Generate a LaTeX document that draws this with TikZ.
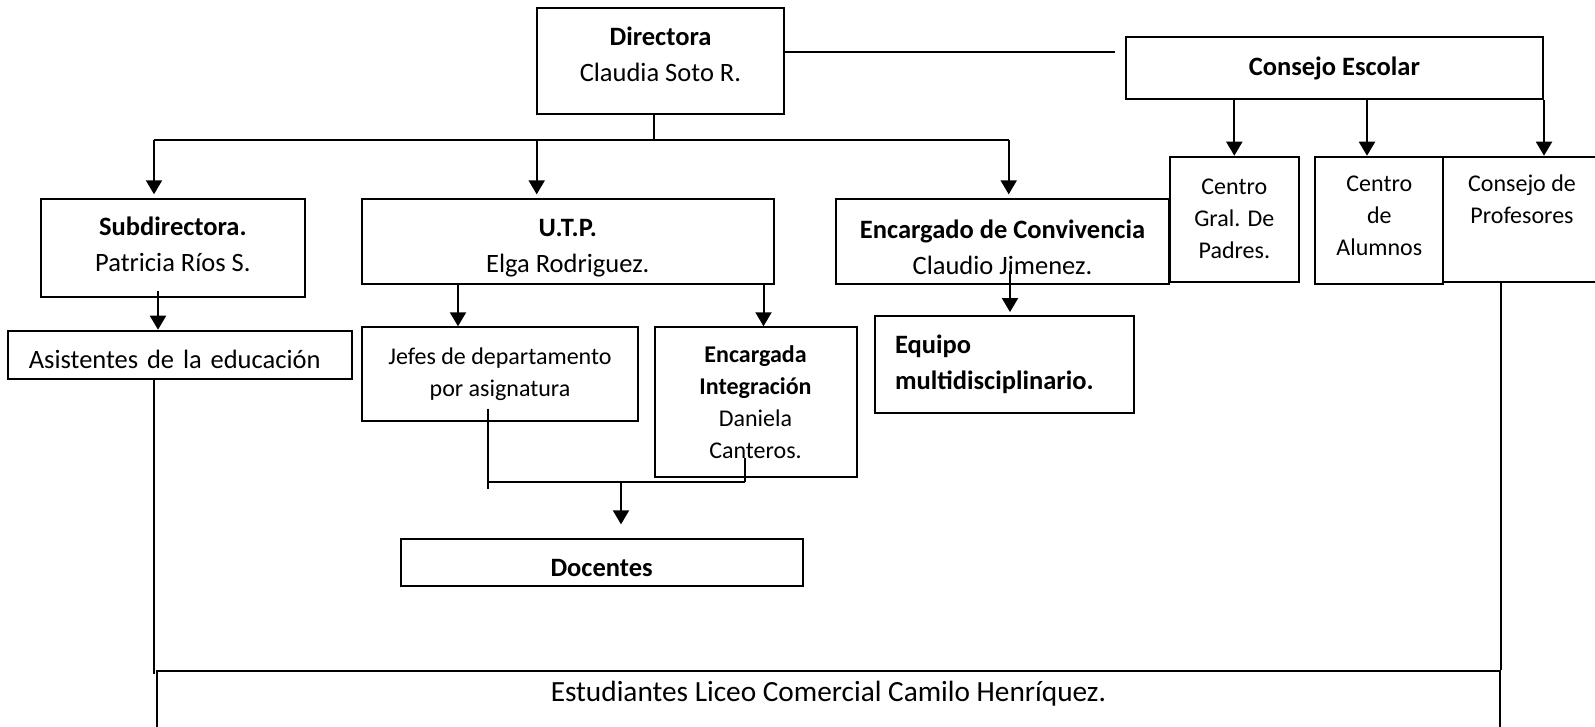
\documentclass[tikz,border=0pt]{standalone}
\usepackage{fontspec}
\setmainfont{Carlito}
\usetikzlibrary{arrows.meta}

% invisible struts that move a box's text up or down
\newcommand\txup[1]{\rule[-#1]{0pt}{0pt}}
\newcommand\txdown[1]{\rule{0pt}{#1}}

\tikzset{
  box/.style={draw, line width=2pt, align=center, inner sep=0pt,
    font=\fontsize{26.5}{36}\selectfont},
  smallbox/.style={box, font=\fontsize{24}{32}\selectfont},
  ln/.style={line width=2pt},
  arr/.style={ln, -{Triangle[length=14pt,width=16pt]}}
}

\begin{document}
\begin{tikzpicture}[x=1pt,y=-1pt]
                \useasboundingbox (0,0) rectangle (1595,727);

                % Top level
                \node[box, minimum width=247pt, minimum height=106pt] (dir) at (660.5,61) {\textbf{Directora}\\Claudia Soto R.\txup{14pt}};
                \node[box, minimum width=417.4pt, minimum height=62pt] (cesc) at (1334.3,68.3) {\textbf{Consejo Escolar}};

                % Second level
                \node[box, minimum width=264.2pt, minimum height=98pt] (sub) at (172.9,248.3) {\textbf{Subdirectora.}\\Patricia Ríos S.\txup{8pt}};
                \node[box, minimum width=411.5pt, minimum height=84.7pt] (utp) at (567.8,241.7) {\txdown{30pt}\textbf{U.T.P.}\\Elga Rodriguez.};
                \node[box, minimum width=333pt, minimum height=84.7pt] (conv) at (1002.5,241.7) {\txdown{30pt}\textbf{Encargado de Convivencia}\\Claudio Jimenez.};
                \node[smallbox, minimum width=129pt, minimum height=125pt] (cgp) at (1234.3,219.2) {Centro\\Gral. De\\Padres.};
                \node[smallbox, minimum width=127.8pt, minimum height=127.3pt] (calum) at (1379.3,220.4) {Centro\\de\\Alumnos\txup{9pt}};
                \node[smallbox, minimum width=158pt, minimum height=125pt] (cprof) at (1522,219.2) {Consejo de\\Profesores\\\mbox{}\txup{9pt}};

                % Third level
                \node[box, text width=302pt, inner xsep=21.2pt, align=left, minimum height=48.6pt] (asist) at (179.8,355) {\txdown{27.5pt}Asistentes de la educación};
                \node[smallbox, minimum width=276.6pt, minimum height=93.4pt] (jefes) at (500,374) {Jefes de departamento\\por asignatura};
                \node[smallbox, minimum width=202pt, minimum height=150pt] (integ) at (755.5,402.3) {\textbf{Encargada}\\\textbf{Integración}\\Daniela\\Canteros.};
                \node[box, text width=218.7pt, inner xsep=20.3pt, align=left, minimum height=97.3pt] (equipo) at (1004.4,364.7) {\textbf{Equipo}\\\textbf{multidisciplinario.}};
                \node[box, minimum width=401.8pt, minimum height=46.7pt] (doc) at (601.6,562.7) {\txdown{28pt}\textbf{Docentes}};

                % Students (box runs past the lower edge)
                \node[box, font=\fontsize{29.3}{36}\selectfont, minimum width=1343.3pt, minimum height=58.6pt] (estud) at (828.4,700) {Estudiantes Liceo Comercial Camilo Henríquez.\txup{17pt}};

                % Directora to the branches
                \coordinate (bus) at (654,140);
                \coordinate (busL) at (154,140);
                \coordinate (busM) at (536.7,140);
                \coordinate (busR) at (1008.7,140);
                \draw[ln] (dir.south -| bus) -- (bus);
                \draw[ln] (busL) -- (busR);
                \draw[arr, shorten >=4pt] (busL) -- (sub.north -| busL);
                \draw[arr, shorten >=4pt] (busM) -- (utp.north -| busM);
                \draw[arr, shorten >=4pt] (busR) -- (conv.north -| busR);

                % Directora to Consejo Escolar
                \coordinate (ceL) at (1115,51.7);
                \draw[ln] (dir.east |- ceL) -- (ceL);

                % Consejo Escolar to its three bodies
                \draw[arr] (cesc.south -| cgp.north) -- (cgp.north);
                \draw[arr] (cesc.south -| 1367,0) -- (calum.north -| 1367,0);
                \draw[arr] (cesc.south east) -- (cprof.north -| cesc.south east);

                % Subdirectora and U.T.P.
                \draw[arr, shorten <=-7pt] (sub.south -| 158,0) -- (asist.north -| 158,0);
                \draw[arr] (utp.south -| 458,0) -- (jefes.north -| 458,0);
                \draw[arr] (utp.south -| 763.5,0) -- (integ.north -| 763.5,0);

                % Jefes and Integracion to Docentes
                \coordinate (mrgL) at (488,482.3);
                \coordinate (mrgR) at (745,482.3);
                \coordinate (mrg) at (621,482.3);
                \draw[ln, shorten <=-13pt, shorten >=-7pt] (jefes.south -| mrgL) -- (mrgL);
                \draw[ln, shorten <=-20pt] (integ.south -| mrgR) -- (mrgR);
                \draw[ln] (mrgL) -- (mrgR);
                \draw[arr, shorten >=14pt] (mrg) -- (doc.north -| mrg);

                % Convivencia to Equipo
                \draw[arr, shorten <=-14pt, shorten >=3pt] (conv.south -| 1010,0) -- (equipo.north -| 1010,0);

                % Lines down to the students
                \draw[ln, shorten >=-4pt] (asist.south -| 153.8,0) -- (estud.north -| 153.8,0);
                \draw[ln] (cprof.south -| estud.east) -- (estud.north east);
\end{tikzpicture}
\end{document}
